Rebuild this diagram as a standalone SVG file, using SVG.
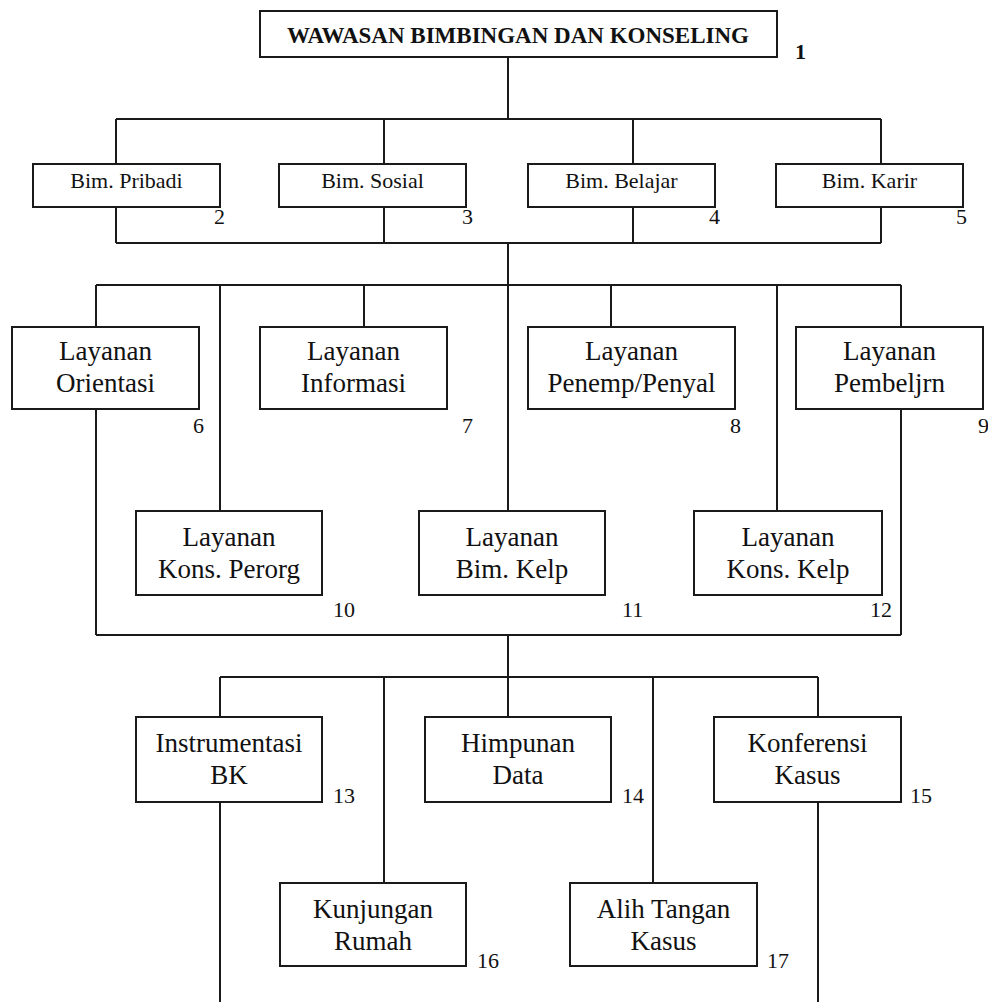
<svg xmlns="http://www.w3.org/2000/svg" width="988" height="1002" viewBox="0 0 988 1002">
<style>
.bx{fill:#fff;stroke:#1a1a1a;stroke-width:2}
.ln{fill:none;stroke:#1a1a1a;stroke-width:2}
.t{font-family:"Liberation Serif","Times New Roman",serif;fill:#111;text-anchor:middle}
.t2{font-size:22px}
.t3{font-size:27px}
.n{font-family:"Liberation Serif","Times New Roman",serif;fill:#111;font-size:22px}
.title{font-size:23px;font-weight:bold}
</style>
<rect width="988" height="1002" fill="#fff"/>
<g id="connectors" class="ln">
<path d="M508 57V119M116 119H881M116 119V164M384 119V164M633 119V164M881 119V164"/>
<path d="M116 207V243M384 207V243M633 207V243M881 207V243M116 243H881M508 243V285"/>
<path d="M96 285H901M96 285V327M220 285V511M364 285V327M508 285V511M611 285V327M777 285V511M901 285V327"/>
<path d="M96 409V635M901 409V635M96 635H901M508 635V677"/>
<path d="M220 677H818M220 677V717M384 677V883M508 677V717M653 677V883M818 677V717"/>
<path d="M220 802V1002M818 802V1002"/>
</g>
<g id="n1"><rect class="bx" x="260" y="11" width="517" height="46"/><text class="t title" x="518" y="43">WAWASAN BIMBINGAN DAN KONSELING</text><text class="n" x="795" y="59" font-weight="bold" font-size="20">1</text></g>
<g id="n2"><rect class="bx" x="33" y="164" width="187" height="43"/><text class="t t2" x="126.5" y="188">Bim. Pribadi</text><text class="n" x="214" y="224">2</text></g>
<g id="n3"><rect class="bx" x="279" y="164" width="187" height="43"/><text class="t t2" x="372.5" y="188">Bim. Sosial</text><text class="n" x="462" y="224">3</text></g>
<g id="n4"><rect class="bx" x="528" y="164" width="187" height="43"/><text class="t t2" x="621.5" y="188">Bim. Belajar</text><text class="n" x="709" y="224">4</text></g>
<g id="n5"><rect class="bx" x="776" y="164" width="187" height="43"/><text class="t t2" x="869.5" y="188">Bim. Karir</text><text class="n" x="956" y="224">5</text></g>
<g id="n6"><rect class="bx" x="12" y="327" width="187" height="82"/><text class="t t3" x="105.5" y="360">Layanan</text><text class="t t3" x="105.5" y="392">Orientasi</text><text class="n" x="193" y="433">6</text></g>
<g id="n7"><rect class="bx" x="260" y="327" width="187" height="82"/><text class="t t3" x="353.5" y="360">Layanan</text><text class="t t3" x="353.5" y="392">Informasi</text><text class="n" x="462" y="433">7</text></g>
<g id="n8"><rect class="bx" x="528" y="327" width="207" height="82"/><text class="t t3" x="631.5" y="360">Layanan</text><text class="t t3" x="631.5" y="392">Penemp/Penyal</text><text class="n" x="730" y="433">8</text></g>
<g id="n9"><rect class="bx" x="796" y="327" width="187" height="82"/><text class="t t3" x="889.5" y="360">Layanan</text><text class="t t3" x="889.5" y="392">Pembeljrn</text><text class="n" x="978" y="433">9</text></g>
<g id="n10"><rect class="bx" x="136" y="511" width="186" height="84"/><text class="t t3" x="229" y="546">Layanan</text><text class="t t3" x="229" y="578">Kons. Perorg</text><text class="n" x="333" y="617">10</text></g>
<g id="n11"><rect class="bx" x="419" y="511" width="186" height="84"/><text class="t t3" x="512" y="546">Layanan</text><text class="t t3" x="512" y="578">Bim. Kelp</text><text class="n" x="622" y="617">11</text></g>
<g id="n12"><rect class="bx" x="694" y="511" width="188" height="84"/><text class="t t3" x="788" y="546">Layanan</text><text class="t t3" x="788" y="578">Kons. Kelp</text><text class="n" x="870" y="617">12</text></g>
<g id="n13"><rect class="bx" x="136" y="717" width="186" height="85"/><text class="t t3" x="229" y="752">Instrumentasi</text><text class="t t3" x="229" y="784">BK</text><text class="n" x="333" y="803">13</text></g>
<g id="n14"><rect class="bx" x="425" y="717" width="186" height="85"/><text class="t t3" x="518" y="752">Himpunan</text><text class="t t3" x="518" y="784">Data</text><text class="n" x="622" y="803">14</text></g>
<g id="n15"><rect class="bx" x="714" y="717" width="187" height="85"/><text class="t t3" x="807.5" y="752">Konferensi</text><text class="t t3" x="807.5" y="784">Kasus</text><text class="n" x="910" y="803">15</text></g>
<g id="n16"><rect class="bx" x="280" y="883" width="186" height="83"/><text class="t t3" x="373" y="918">Kunjungan</text><text class="t t3" x="373" y="950">Rumah</text><text class="n" x="477" y="968">16</text></g>
<g id="n17"><rect class="bx" x="570" y="883" width="187" height="83"/><text class="t t3" x="663.5" y="918">Alih Tangan</text><text class="t t3" x="663.5" y="950">Kasus</text><text class="n" x="767" y="968">17</text></g>
</svg>
